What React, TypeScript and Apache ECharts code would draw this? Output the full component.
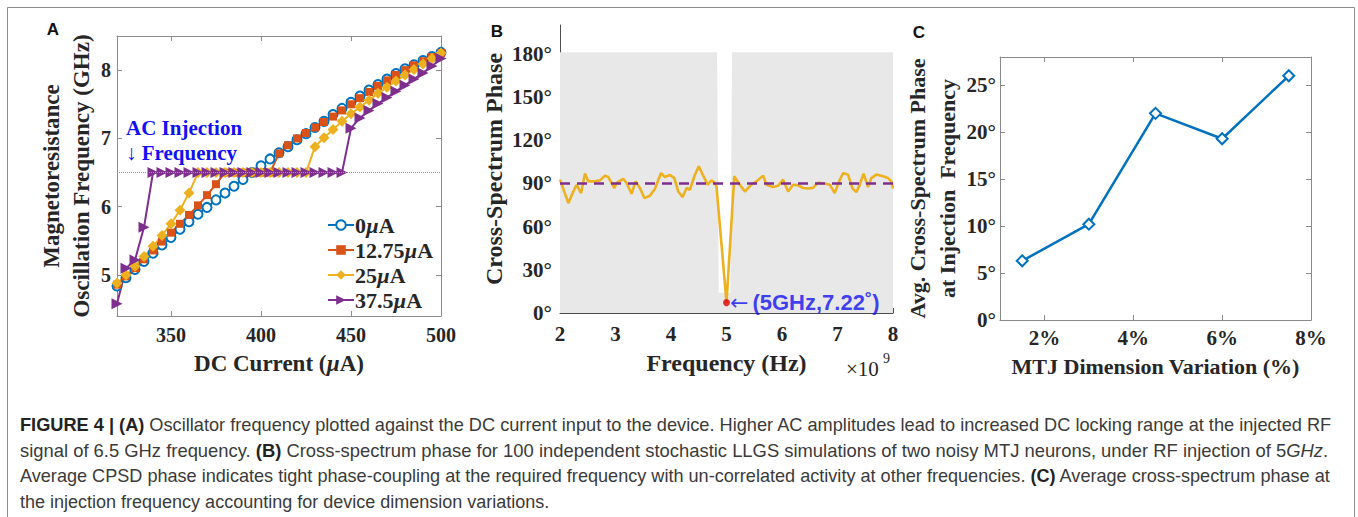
import React, { useEffect, useRef } from 'react';
import * as echarts from 'echarts';

// ---------- Panel A data ----------
const currents = [320, 325, 330, 335, 340, 345, 350, 355, 360, 365, 370, 375, 380, 385, 390, 395, 400, 405, 410, 415, 420, 425, 430, 435, 440, 445, 450, 455, 460, 465, 470, 475, 480, 485, 490, 495, 500];
const freqAc0 = [4.84, 4.96, 5.08, 5.20, 5.32, 5.44, 5.55, 5.67, 5.78, 5.89, 5.99, 6.10, 6.20, 6.30, 6.40, 6.50, 6.60, 6.70, 6.79, 6.88, 6.98, 7.07, 7.16, 7.25, 7.35, 7.44, 7.53, 7.62, 7.71, 7.79, 7.87, 7.95, 8.02, 8.08, 8.14, 8.20, 8.26];
const freqAc1275 = [4.86, 4.98, 5.10, 5.23, 5.36, 5.49, 5.62, 5.75, 5.88, 6.02, 6.17, 6.33, 6.5, 6.5, 6.5, 6.5, 6.5, 6.5, 6.78, 6.90, 7.00, 7.08, 7.16, 7.24, 7.32, 7.41, 7.50, 7.59, 7.68, 7.77, 7.85, 7.93, 8.00, 8.07, 8.13, 8.19, 8.25];
const freqAc25 = [4.88, 5.00, 5.13, 5.27, 5.42, 5.58, 5.75, 5.95, 6.20, 6.5, 6.5, 6.5, 6.5, 6.5, 6.5, 6.5, 6.5, 6.5, 6.5, 6.5, 6.5, 6.5, 6.88, 7.01, 7.13, 7.25, 7.36, 7.46, 7.56, 7.66, 7.75, 7.84, 7.93, 8.01, 8.09, 8.17, 8.25];
const freqAc375 = [4.58, 5.10, 5.22, 5.70, 6.5, 6.5, 6.5, 6.5, 6.5, 6.5, 6.5, 6.5, 6.5, 6.5, 6.5, 6.5, 6.5, 6.5, 6.5, 6.5, 6.5, 6.5, 6.5, 6.5, 6.5, 6.5, 7.15, 7.30, 7.41, 7.51, 7.60, 7.69, 7.78, 7.87, 7.96, 8.06, 8.17];
const acNames = ['0µA', '12.75µA', '25µA', '37.5µA'];
const injectionFreq = 6.5;
const aXTicks = [350, 400, 450, 500];
const aYTicks = [5, 6, 7, 8];

// ---------- Panel B data ----------
const bPhaseAvg: number[][] = [
  [2.00, 92.6], [2.15, 76.3], [2.24, 84.4], [2.30, 89.0], [2.38, 83.3], [2.45, 96.8], [2.51, 91.4], [2.63, 91.4],
  [2.72, 92.1], [2.81, 95.4], [2.87, 94.4], [2.98, 86.8], [3.02, 90.3], [3.14, 93.1], [3.20, 90.3], [3.29, 82.8],
  [3.36, 91.4], [3.44, 86.8], [3.52, 79.8], [3.62, 81.4], [3.71, 86.1], [3.82, 97.2], [3.89, 94.4], [3.98, 95.8],
  [4.06, 93.7], [4.13, 84.4], [4.21, 80.5], [4.28, 86.8], [4.34, 85.6], [4.42, 94.9], [4.50, 101.9], [4.58, 95.4],
  [4.66, 89.1], [4.73, 92.1], [4.79, 90.3], [4.82, 87.9], [5.00, 7.22], [5.14, 94.9], [5.24, 89.1], [5.33, 84.4],
  [5.45, 89.1], [5.54, 91.4], [5.66, 95.4], [5.72, 89.1], [5.84, 87.5], [5.93, 88.4], [6.02, 92.6], [6.11, 84.4],
  [6.20, 89.1], [6.29, 88.7], [6.38, 86.8], [6.47, 86.5], [6.56, 86.9], [6.65, 90.5], [6.77, 89.9], [6.86, 89.1],
  [6.95, 83.3], [7.03, 91.4], [7.10, 97.2], [7.19, 96.1], [7.27, 86.6], [7.34, 83.9], [7.40, 89.0], [7.47, 96.8],
  [7.55, 87.4], [7.61, 93.7], [7.70, 96.1], [7.82, 94.9], [7.91, 93.7], [7.97, 91.4], [8.00, 86.5]
];
const bMeanPhase = 90;
const bNoiseEnvelope: number[][] = [[2, 181], [4.83, 181], [4.86, 14], [5.07, 14], [5.1, 181], [8, 181]];
const bXTicks = [2, 3, 4, 5, 6, 7, 8];
const bYTicks = [0, 30, 60, 90, 120, 150, 180];
const bMarker = [5, 7.22];

// ---------- Panel C data ----------
const cVariation = [1.5, 3, 4.5, 6, 7.5];
const cPhase = [6.3, 10.2, 22.0, 19.3, 26.0];
const cXTicks = [2, 4, 6, 8];
const cYTicks = [0, 5, 10, 15, 20, 25];

// ---------- Caption ----------
const captionLines = [
  '{b|FIGURE 4 | (A)} Oscillator frequency plotted against the DC current input to the device. Higher AC amplitudes lead to increased DC locking range at the injected RF',
  'signal of 6.5 GHz frequency. {b|(B)} Cross-spectrum phase for 100 independent stochastic LLGS simulations of two noisy MTJ neurons, under RF injection of 5{i|GHz}.',
  'Average CPSD phase indicates tight phase-coupling at the required frequency with un-correlated activity at other frequencies. {b|(C)} Average cross-spectrum phase at',
  'the injection frequency accounting for device dimension variations.',
];
const captionSizes = [18.2, 18.4, 18.1, 18.0];

const SERIF = '"Liberation Serif", "Times New Roman", serif';
const SANS = '"Liberation Sans", Arial, sans-serif';
const TXT = '#262626';
const BOX = '#8a8a8a';
const BLUE_TXT = '#1010f0';

const deg = (v: number) => `${v}°`;

function boxAxis(base: any, extra: any) {
  return Object.assign({}, base, extra);
}

export default function App() {
  const ref = useRef<HTMLDivElement>(null);
  useEffect(() => {
    if (!ref.current) return;
    const chart = echarts.init(ref.current, undefined, { renderer: 'svg' });

    const tickLabel = { fontFamily: SERIF, fontWeight: 'bold', fontSize: 21, color: TXT };
    const nameStyle = (size: number, lh: number) => ({
      fontFamily: SERIF, fontWeight: 'bold', fontSize: size, color: TXT, lineHeight: lh,
      rich: { i: { fontFamily: SERIF, fontWeight: 'bold', fontStyle: 'italic', fontSize: size, color: TXT } }
    });

    const valueAxis = (gridIndex: number, min: number, max: number, ticks: number[], color: string, fmt?: any) => ({
      type: 'value', gridIndex, min, max,
      axisLine: { show: true, onZero: false, lineStyle: { color, width: 1 } },
      axisTick: { show: true, inside: true, length: 5, customValues: ticks, lineStyle: { color } },
      axisLabel: { show: true, customValues: ticks, ...tickLabel, formatter: fmt },
      splitLine: { show: false },
    });
    const mirrorAxis = (gridIndex: number, min: number, max: number, ticks: number[], position: string) => ({
      type: 'value', gridIndex, min, max, position,
      axisLine: { show: true, onZero: false, lineStyle: { color: BOX, width: 1 } },
      axisTick: { show: true, inside: true, length: 5, customValues: ticks, lineStyle: { color: BOX } },
      axisLabel: { show: false },
      splitLine: { show: false },
    });

    const aPairs = (arr: number[]) => currents.map((c, i) => [c, arr[i]]);

    const captionGraphics = captionLines.map((t, i) => {
      const s = captionSizes[i];
      return {
        type: 'text', x: 20, y: 425 + i * 25.7,
        style: {
          text: t,
          font: `${s}px ${SANS}`, fill: '#3a3a3a', verticalAlign: 'middle',
          rich: {
            b: { font: `bold ${s}px ${SANS}`, fill: '#222' },
            i: { font: `italic ${s}px ${SANS}`, fill: '#3a3a3a' },
          },
        },
      };
    });

    const option: any = {
      animation: false,
      backgroundColor: '#ffffff',
      grid: [
        { left: 117, top: 36, width: 324, height: 280 },
        { left: 560, top: 25, width: 333, height: 288 },
        { left: 1000, top: 57, width: 311, height: 263 },
      ],
      xAxis: [
        boxAxis(valueAxis(0, 320, 500, aXTicks, BOX), {
          position: 'bottom', name: 'DC Current ({i|µ}A)', nameLocation: 'middle', nameGap: 29,
          nameTextStyle: nameStyle(23, 28),
          axisLabel: { show: true, customValues: aXTicks, ...tickLabel, fontSize: 20, margin: 9 },
        }),
        mirrorAxis(0, 320, 500, aXTicks, 'top'),
        boxAxis(valueAxis(1, 2, 8, bXTicks, '#4d4d4d'), {
          position: 'bottom', name: 'Frequency (Hz)', nameLocation: 'middle', nameGap: 33,
          nameTextStyle: nameStyle(24, 28),
          axisLabel: { show: true, customValues: bXTicks, ...tickLabel, margin: 10 },
        }),
        boxAxis(valueAxis(2, 1, 8, cXTicks, BOX, (v: number) => `${v}%`), {
          position: 'bottom', name: 'MTJ Dimension Variation (%)', nameLocation: 'middle', nameGap: 29,
          nameTextStyle: nameStyle(22, 28),
          axisLabel: { show: true, customValues: cXTicks, ...tickLabel, margin: 7, formatter: (v: number) => `${v}%` },
        }),
        mirrorAxis(2, 1, 8, cXTicks, 'top'),
      ],
      yAxis: [
        boxAxis(valueAxis(0, 4.4, 8.5, aYTicks, BOX), {
          position: 'left', name: 'Magnetoresistance\nOscillation Frequency (GHz)', nameLocation: 'middle', nameGap: 21,
          nameTextStyle: nameStyle(23, 30),
          axisLabel: { show: true, customValues: aYTicks, ...tickLabel, fontSize: 20, margin: 6 },
        }),
        mirrorAxis(0, 4.4, 8.5, aYTicks, 'right'),
        boxAxis(valueAxis(1, 0, 200, bYTicks, '#4d4d4d', deg), {
          position: 'left', name: 'Cross-Spectrum Phase', nameLocation: 'middle', nameGap: 49,
          nameTextStyle: nameStyle(24, 28),
          axisLabel: { show: true, customValues: bYTicks, ...tickLabel, margin: 8, formatter: deg },
        }),
        boxAxis(valueAxis(2, 0, 28, cYTicks, BOX, deg), {
          position: 'left', name: 'Avg. Cross-Spectrum Phase\nat Injection  Frequency', nameLocation: 'middle', nameGap: 37,
          nameTextStyle: nameStyle(22, 30),
          axisLabel: { show: true, customValues: cYTicks, ...tickLabel, margin: 4, formatter: deg },
        }),
        mirrorAxis(2, 0, 28, cYTicks, 'right'),
      ],
      legend: {
        show: true,
        data: acNames,
        orient: 'vertical',
        left: 322, top: 209,
        itemWidth: 26, itemHeight: 12, itemGap: 3,
        textStyle: {
          fontFamily: SERIF, fontWeight: 'bold', fontSize: 22, color: TXT, padding: [0, 0, 0, -4],
          rich: { i: { fontFamily: SERIF, fontWeight: 'bold', fontStyle: 'italic', fontSize: 22, color: TXT } },
        },
        formatter: (n: string) => n.replace('µA', '{i|µ}A'),
      },
      series: [
        {
          name: acNames[0], type: 'line', xAxisIndex: 0, yAxisIndex: 0, data: aPairs(freqAc0),
          symbol: 'emptyCircle', symbolSize: 9, color: '#0072BD', lineStyle: { width: 2 },
          itemStyle: { borderWidth: 2 },
          markLine: {
            silent: true, symbol: 'none', label: { show: false },
            lineStyle: { type: 'dotted', color: '#9a9a9a', width: 1 },
            data: [{ yAxis: injectionFreq }],
          },
        },
        {
          name: acNames[1], type: 'line', xAxisIndex: 0, yAxisIndex: 0, data: aPairs(freqAc1275),
          symbol: 'rect', symbolSize: 8, color: '#D95319', lineStyle: { width: 2 },
        },
        {
          name: acNames[2], type: 'line', xAxisIndex: 0, yAxisIndex: 0, data: aPairs(freqAc25),
          symbol: 'diamond', symbolSize: 11, color: '#EDB120', lineStyle: { width: 2 },
        },
        {
          name: acNames[3], type: 'line', xAxisIndex: 0, yAxisIndex: 0, data: aPairs(freqAc375),
          symbol: 'triangle', symbolRotate: -90, symbolSize: 11, color: '#7E2F8E', lineStyle: { width: 2 },
        },
        // Panel B
        {
          name: 'noise', type: 'line', xAxisIndex: 2, yAxisIndex: 2, data: bNoiseEnvelope,
          showSymbol: false, silent: true, z: 1,
          lineStyle: { width: 0, color: '#e8e8e8' },
          areaStyle: { color: '#e8e8e8', opacity: 1 },
        },
        {
          name: 'avg', type: 'line', xAxisIndex: 2, yAxisIndex: 2, data: bPhaseAvg,
          showSymbol: false, color: '#EDB120', lineStyle: { width: 2.6 }, z: 3,
        },
        {
          name: 'mean', type: 'line', xAxisIndex: 2, yAxisIndex: 2, data: [[bXTicks[0], bMeanPhase], [bXTicks[bXTicks.length - 1], bMeanPhase]],
          showSymbol: false, color: '#7E2F8E', lineStyle: { width: 2.5, type: [10, 7] }, z: 4,
        },
        {
          name: 'marker', type: 'scatter', xAxisIndex: 2, yAxisIndex: 2, data: [bMarker],
          symbolSize: 7, itemStyle: { color: '#e00000' }, z: 5,
          label: {
            show: true, position: 'right', distance: 0,
            formatter: '{a|←}{b|(5GHz,7.22˚)}',
            rich: {
              a: { fontFamily: '"DejaVu Sans", sans-serif', fontSize: 22, color: BLUE_TXT, padding: [0, 4, 0, 0] },
              b: { fontFamily: SANS, fontWeight: 'bold', fontSize: 22, color: BLUE_TXT },
            },
          },
        },
        // Panel C
        {
          name: 'variation', type: 'line', xAxisIndex: 3, yAxisIndex: 3,
          data: cVariation.map((v, i) => [v, cPhase[i]]),
          symbol: 'emptyDiamond', symbolSize: 11, color: '#0072BD',
          lineStyle: { width: 2.5 }, itemStyle: { borderWidth: 2 },
        },
      ],
      graphic: [
        {
          type: 'polyline', silent: true,
          shape: { points: [[7.5, 520], [7.5, 7.5], [1354.5, 7.5], [1354.5, 520]] },
          style: { stroke: '#8c8c8c', lineWidth: 1, fill: null },
        },
        { type: 'text', x: 53, y: 29, style: { text: 'A', font: `bold 17px ${SANS}`, fill: '#111', align: 'center', verticalAlign: 'middle' } },
        { type: 'text', x: 497, y: 31, style: { text: 'B', font: `bold 17px ${SANS}`, fill: '#111', align: 'center', verticalAlign: 'middle' } },
        { type: 'text', x: 919, y: 32, style: { text: 'C', font: `bold 17px ${SANS}`, fill: '#111', align: 'center', verticalAlign: 'middle' } },
        { type: 'text', x: 126, y: 128, style: { text: 'AC Injection', font: `bold 21px ${SERIF}`, fill: BLUE_TXT, verticalAlign: 'middle' } },
        { type: 'text', x: 126, y: 153, style: { text: '↓ Frequency', font: `bold 21px ${SERIF}`, fill: BLUE_TXT, verticalAlign: 'middle' } },
        { type: 'text', x: 846, y: 369, style: { text: '×10', font: `21px ${SERIF}`, fill: TXT, verticalAlign: 'middle' } },
        { type: 'text', x: 883, y: 358, style: { text: '9', font: `14px ${SERIF}`, fill: TXT, verticalAlign: 'middle' } },
        ...captionGraphics,
      ],
    };

    chart.setOption(option);
    return () => chart.dispose();
  }, []);

  return <div ref={ref} style={{ position: 'absolute', left: 0, top: 0, width: 1358, height: 517 }} />;
}
